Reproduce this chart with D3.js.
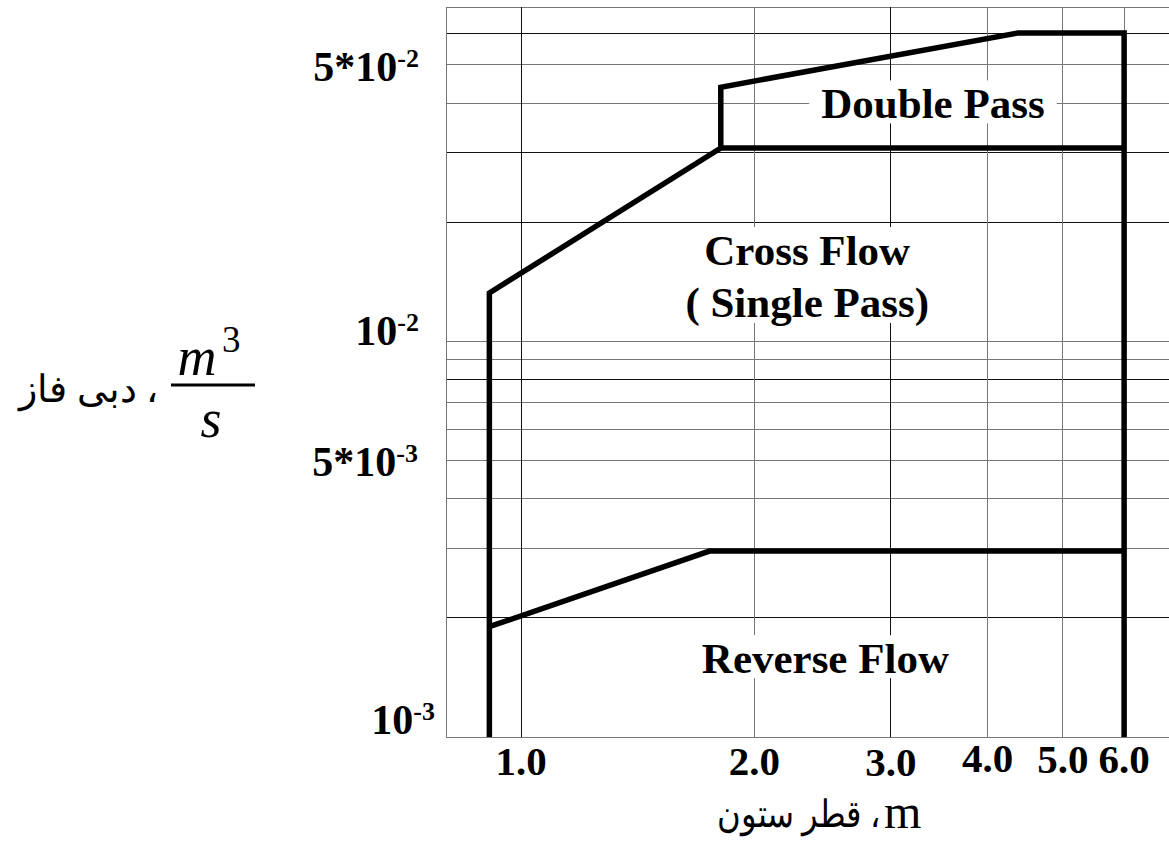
<!DOCTYPE html>
<html>
<head>
<meta charset="utf-8">
<script src="https://cdn.jsdelivr.net/npm/d3@7"></script>
<style>
  body { margin: 0; background: #fff; }
  svg text { font-family: "Liberation Serif", "Times New Roman", serif; fill: #000; }
</style>
</head>
<body>
<svg id="chart" width="1169" height="841"></svg>
<script>
// column diameter, m
const xGrid = [0.8, 1, 2, 3, 4, 5, 6];
const xTicks = [1, 2, 3, 4, 5, 6];
const xTickLabels = ["1.0", "2.0", "3.0", "4.0", "5.0", "6.0"];

// phase flow, m3/s
const yGrid = [0.001, 0.002, 0.003, 0.004, 0.005, 0.006, 0.007, 0.008, 0.009,
               0.01, 0.02, 0.03, 0.04, 0.05, 0.06, 0.07];
const yTicks = [0.05, 0.01, 0.005, 0.001];
const yTickBase = ["5*10", "10", "5*10", "10"];
const yTickExp = ["-2", "-2", "-3", "-3"];

// region boundaries as [diameter, flow]
const outerEdge = [[0.91, 0.001], [0.91, 0.01325], [1.81, 0.0308], [1.81, 0.0439],
                   [4.38, 0.0602], [6, 0.0602], [6, 0.001]];
const doublePassFloor = [[1.81, 0.0308], [6, 0.0308]];
const reverseFlowTop = [[0.91, 0.0019], [1.75, 0.00295], [6, 0.00295]];

// region names
const regionNames = [["Double Pass"], ["Cross Flow", "( Single Pass)"], ["Reverse Flow"]];
const regionX = [3.4, 2.34, 2.47];
const regionY = [0.0366, 0.0156, 0.00145];

// ---- drawing ----
const svg = d3.select("#chart");
const x = d3.scaleLog().domain([0.8, 7]).range([446, 1176]);
const y = d3.scaleLog().domain([0.001, 0.07]).range([737, 7]);

const darkLines = new Set([0.06, 0.03, 0.02, 0.008, 0.002, 1, 3]);
const gridColor = v => darkLines.has(v) ? "#111" : "#777";

// grid
svg.append("g").selectAll("line").data(yGrid).join("line")
  .attr("x1", x(0.8)).attr("x2", x(7))
  .attr("y1", d => y(d)).attr("y2", d => y(d))
  .attr("stroke", gridColor).attr("stroke-width", 1)
  .attr("shape-rendering", "crispEdges");

svg.append("g").selectAll("line").data(xGrid).join("line")
  .attr("x1", d => x(d)).attr("x2", d => x(d))
  .attr("y1", y(0.07)).attr("y2", y(0.001))
  .attr("stroke", gridColor).attr("stroke-width", 1)
  .attr("shape-rendering", "crispEdges");

// region labels with white backing
const regions = svg.append("g");
regionNames.forEach((lines, i) => {
  const g = regions.append("g");
  const t = g.append("text")
    .attr("x", x(regionX[i])).attr("y", y(regionY[i]))
    .attr("text-anchor", "middle")
    .style("font-size", "43px").style("font-weight", "bold");
  lines.forEach((s, j) => {
    t.append("tspan").attr("x", x(regionX[i])).attr("dy", j === 0 ? 0 : 52).text(s);
  });
  const bb = t.node().getBBox();
  g.insert("rect", "text")
    .attr("x", bb.x - 12).attr("y", bb.y)
    .attr("width", bb.width + 24).attr("height", bb.height - 4)
    .attr("fill", "#fff");
});

// boundaries
const line = d3.line().x(d => x(d[0])).y(d => y(d[1]));
[outerEdge, doublePassFloor, reverseFlowTop].forEach(pts => {
  svg.append("path").attr("d", line(pts))
    .attr("fill", "none").attr("stroke", "#000")
    .attr("stroke-width", 5.5).attr("stroke-linejoin", "miter");
});

// x tick labels
const xLabelDy = [0, 0, 1, -3, -2, -2];
svg.append("g").selectAll("text").data(xTicks).join("text")
  .attr("x", d => x(d)).attr("y", (d, i) => y(0.001) + 38 + xLabelDy[i])
  .attr("text-anchor", "middle")
  .style("font-size", "41px").style("font-weight", "bold")
  .text((d, i) => xTickLabels[i]);

// y tick labels
const yLabelDy = [16, 4, 16, -3];
const yLabelX = [419, 419, 418, 435];
yTicks.forEach((v, i) => {
  const t = svg.append("text")
    .attr("x", yLabelX[i]).attr("y", y(v) + yLabelDy[i])
    .attr("text-anchor", "end")
    .style("font-size", "42px").style("font-weight", "bold");
  t.append("tspan").text(yTickBase[i]);
  t.append("tspan").attr("dy", -14).style("font-size", "26px").text(yTickExp[i]);
});

// x axis title
svg.append("text")
  .attr("x", 717).attr("y", 827)
  .attr("textLength", 163).attr("lengthAdjust", "spacingAndGlyphs")
  .style("font-size", "38px")
  .text("قطر ستون ،");
svg.append("text")
  .attr("x", 884).attr("y", 828)
  .style("font-size", "48px")
  .text("m");

// y axis title
svg.append("text")
  .attr("x", 158).attr("y", 402)
  .attr("text-anchor", "end")
  .style("font-size", "38px")
  .text("دبی فاز ،");

const frac = svg.append("g");
frac.append("text").attr("x", 197).attr("y", 375)
  .attr("text-anchor", "middle")
  .style("font-size", "54px").style("font-style", "italic").text("m");
frac.append("text").attr("x", 222).attr("y", 352)
  .style("font-size", "37px").text("3");
frac.append("line")
  .attr("x1", 171).attr("x2", 255).attr("y1", 385).attr("y2", 385)
  .attr("stroke", "#000").attr("stroke-width", 3);
frac.append("text").attr("x", 211).attr("y", 437)
  .attr("text-anchor", "middle")
  .style("font-size", "54px").style("font-style", "italic").text("s");
</script>
</body>
</html>
